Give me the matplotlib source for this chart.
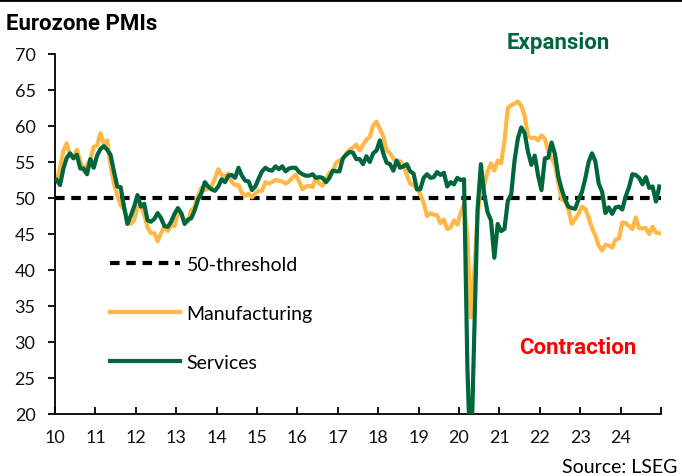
import numpy as np
import matplotlib
matplotlib.use("Agg")
from matplotlib import pyplot as plt
from matplotlib.lines import Line2D

# monthly Eurozone PMIs, Jan 2010 .. Dec 2024
manufacturing = [
    52.4, 54.2, 56.6, 57.6, 55.8, 55.6, 56.7, 55.1, 53.7, 54.6, 55.3, 57.1,  # 2010
    57.3, 59.0, 57.5, 58.0, 54.6, 52.0, 50.4, 49.0, 48.5, 47.1, 46.4, 46.9,  # 2011
    48.8, 49.0, 47.7, 45.9, 45.1, 45.1, 44.0, 45.1, 46.1, 45.4, 46.2, 46.1,  # 2012
    47.9, 47.9, 46.8, 46.7, 48.3, 48.8, 50.3, 51.4, 51.1, 51.3, 51.6, 52.7,  # 2013
    54.0, 53.2, 53.0, 53.4, 52.2, 51.8, 51.8, 50.7, 50.3, 50.6, 50.1, 50.6,  # 2014
    51.0, 51.0, 52.2, 52.0, 52.2, 52.5, 52.4, 52.3, 52.0, 52.3, 52.8, 53.2,  # 2015
    52.3, 51.2, 51.6, 51.7, 51.5, 52.8, 52.0, 51.7, 52.6, 53.5, 53.7, 54.9,  # 2016
    55.2, 55.4, 56.2, 56.7, 57.0, 57.4, 56.6, 57.4, 58.1, 58.5, 60.1, 60.6,  # 2017
    59.6, 58.6, 56.6, 56.2, 55.5, 54.9, 55.1, 54.6, 53.2, 52.0, 51.8, 51.4,  # 2018
    50.5, 49.3, 47.5, 47.9, 47.7, 47.6, 46.5, 47.0, 45.7, 45.9, 46.9, 46.3,  # 2019
    47.9, 49.2, 44.5, 33.4, 39.4, 47.4, 51.8, 51.7, 53.7, 54.8, 53.8, 55.2,  # 2020
    54.8, 57.9, 62.5, 62.9, 63.1, 63.4, 62.8, 61.4, 58.6, 58.3, 58.4, 58.0,  # 2021
    58.7, 58.2, 56.5, 55.5, 54.6, 52.1, 49.8, 49.6, 48.4, 46.4, 47.1, 47.8,  # 2022
    48.8, 48.5, 47.3, 45.8, 44.8, 43.4, 42.7, 43.5, 43.4, 43.1, 44.2, 44.4,  # 2023
    46.6, 46.5, 46.1, 45.7, 47.3, 45.8, 45.8, 45.8, 45.0, 46.0, 45.2, 45.1,  # 2024
]
services = [
    52.5, 51.8, 54.1, 55.6, 56.2, 55.5, 56.0, 54.1, 54.1, 53.3, 55.4, 54.2,  # 2010
    55.9, 56.8, 57.2, 56.7, 56.0, 53.7, 51.6, 51.5, 48.8, 46.4, 47.5, 48.8,  # 2011
    50.4, 48.8, 49.2, 46.9, 46.7, 47.1, 47.9, 47.2, 46.1, 46.0, 46.7, 47.8,  # 2012
    48.6, 47.9, 46.4, 47.0, 47.2, 48.3, 49.8, 50.7, 52.2, 51.6, 51.2, 51.0,  # 2013
    51.6, 52.6, 52.2, 53.1, 53.2, 52.8, 54.2, 53.1, 52.4, 52.3, 51.1, 51.6,  # 2014
    52.7, 53.7, 54.2, 53.9, 53.8, 54.4, 54.0, 54.4, 53.7, 54.1, 54.2, 54.2,  # 2015
    53.6, 53.3, 53.1, 53.1, 53.3, 52.8, 52.9, 52.8, 52.2, 52.8, 53.8, 53.7,  # 2016
    53.7, 55.5, 56.0, 56.4, 56.3, 55.4, 55.4, 54.7, 55.8, 55.0, 56.2, 56.6,  # 2017
    58.0, 56.2, 54.9, 54.7, 53.8, 55.2, 54.2, 54.4, 54.7, 53.7, 53.4, 51.2,  # 2018
    51.2, 52.8, 53.3, 52.8, 52.9, 53.6, 53.2, 53.5, 51.6, 52.2, 51.9, 52.8,  # 2019
    52.5, 52.6, 26.4, 12.0, 30.5, 48.3, 54.7, 50.5, 48.0, 46.9, 41.7, 46.4,  # 2020
    45.4, 45.7, 49.6, 50.5, 55.2, 58.3, 59.8, 59.0, 56.4, 54.6, 55.9, 53.1,  # 2021
    51.1, 55.5, 55.6, 57.7, 56.1, 53.0, 51.2, 49.8, 48.8, 48.6, 48.5, 49.8,  # 2022
    50.8, 52.7, 55.0, 56.2, 55.1, 52.0, 50.9, 47.9, 48.7, 47.8, 48.7, 48.8,  # 2023
    48.4, 50.2, 51.5, 53.3, 53.2, 52.8, 51.9, 52.9, 51.4, 51.6, 49.5, 51.6,  # 2024
]
years = ["10", "11", "12", "13", "14", "15", "16", "17", "18", "19",
         "20", "21", "22", "23", "24"]
threshold = 50

ORANGE = "#FFB845"
GREEN = "#00673D"
FONT = "Lato"

plt.rcParams["font.family"] = FONT

fig = plt.figure(figsize=(6.82, 4.77), dpi=100)
ax = fig.add_axes([55 / 682, 62 / 477, 606 / 682, 360 / 477])

months = np.arange(len(services))
ax.axhline(threshold, color="black", lw=3, ls=(0, (2.3, 1.6)), zorder=1,
           label="50-threshold")
ax.plot(months, manufacturing, color=ORANGE, lw=3, zorder=2,
        label="Manufacturing", solid_joinstyle="round")
ax.plot(months, services, color=GREEN, lw=3, zorder=3,
        label="Services", solid_joinstyle="round")

ax.set_xlim(-0.5, len(services) - 0.5)
ax.set_ylim(20, 70)
ax.set_yticks(range(20, 71, 5))
ax.set_xticks(np.arange(0, len(years) + 1) * 12 - 0.5)
ax.set_xticklabels(years + [""])

for s in ["top", "right"]:
    ax.spines[s].set_visible(False)
for s in ["left", "bottom"]:
    ax.spines[s].set_linewidth(1.3)
ax.tick_params(axis="y", direction="out", length=5, width=1.3, pad=9,
               labelsize=13, colors="black")
ax.tick_params(axis="x", direction="in", length=5, width=1.3, pad=11,
               labelsize=13, colors="black")
for lab in ax.get_xticklabels() + ax.get_yticklabels():
    lab.set_color("#111111")

leg = ax.legend(loc="upper left", bbox_to_anchor=(0.09, 0.439), frameon=False,
                fontsize=14, handlelength=3.6, handletextpad=0.36,
                labelspacing=1.65, borderpad=0, borderaxespad=0)

fig.text(6 / 682, 1 - 24 / 477, "Eurozone PMIs", fontsize=16,
         fontweight="bold", family="Roboto", va="center", ha="left")
fig.text(507 / 682, 1 - 43 / 477, "Expansion", fontsize=16,
         fontweight="bold", color=GREEN, va="center", ha="left", family="Roboto")
fig.text(519 / 682, 1 - 348 / 477, "Contraction", fontsize=16,
         fontweight="bold", color="#FF0000", va="center", ha="left", family="Roboto")
fig.text(677 / 682, 1 - 468 / 477, "Source: LSEG", fontsize=14,
         va="center", ha="right")

fig.add_artist(Line2D([0, 1], [0.997, 0.997], color="black", lw=2,
                      transform=fig.transFigure))

plt.savefig("out.png", dpi=100)
